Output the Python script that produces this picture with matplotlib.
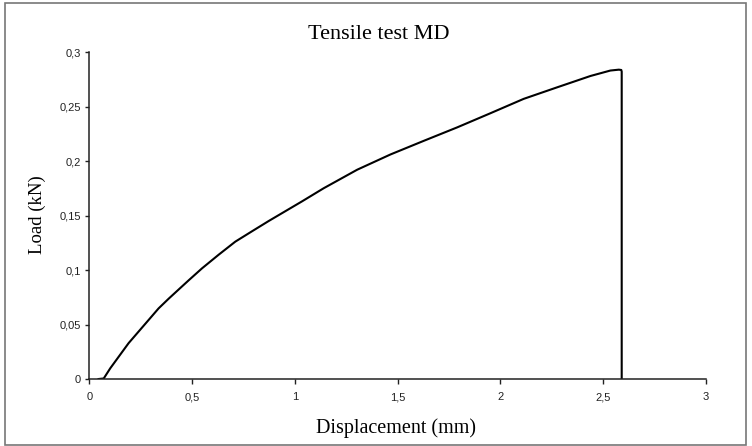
import matplotlib.pyplot as plt
from matplotlib.patches import Rectangle

# Values
disp = [0.045, 0.07, 0.102, 0.143, 0.191, 0.24, 0.289, 0.337, 0.386, 0.435,
        0.483, 0.548, 0.629, 0.71, 0.792, 0.873, 0.954, 1.035, 1.14, 1.303,
        1.465, 1.627, 1.789, 1.951, 2.113, 2.276, 2.438, 2.535, 2.576, 2.588,
        2.59, 2.59]
load = [0, 0.0005, 0.0099, 0.0205, 0.0329, 0.0436, 0.0543, 0.0648, 0.0737, 0.0822,
        0.0905, 0.1015, 0.114, 0.126, 0.1356, 0.145, 0.154, 0.163, 0.175, 0.192,
        0.206, 0.2185, 0.2308, 0.2438, 0.257, 0.2676, 0.278, 0.283, 0.2838, 0.2835,
        0.282, 0]

xticks = [0, 0.5, 1, 1.5, 2, 2.5, 3]
xtick_labels = ['0', '0,5', '1', '1,5', '2', '2,5', '3']
yticks = [0, 0.05, 0.1, 0.15, 0.2, 0.25, 0.3]
ytick_labels = ['0', '0,05', '0,1', '0,15', '0,2', '0,25', '0,3']

serif = 'Liberation Serif'
sans = 'Liberation Sans'

fig = plt.figure(figsize=(7.52, 4.46), dpi=100)
ax = fig.add_axes([0.1188, 0.1502, 0.82, 0.7332])

ax.plot(disp, load, color='black', lw=1.5)

ax.set_xlim(0, 3)
ax.set_ylim(0, 0.3)
ax.set_xticks(xticks)
ax.set_xticklabels(xtick_labels, fontfamily=sans, fontsize=8)
ax.set_yticks(yticks)
ax.set_yticklabels(ytick_labels, fontfamily=sans, fontsize=8)
ax.tick_params(axis='x', direction='out', length=3.5, width=1, pad=6, colors='#222222')
ax.tick_params(axis='y', direction='out', length=3, width=1, pad=3, colors='#222222')

for s in ['top', 'right']:
    ax.spines[s].set_visible(False)
for s in ['left', 'bottom']:
    ax.spines[s].set_linewidth(1.1)
    ax.spines[s].set_color('#222222')

fig.text(0.504, 0.923, 'Tensile test MD', ha='center', va='center',
         fontfamily=serif, fontsize=16)
fig.text(0.527, 0.04, 'Displacement (mm)', ha='center', va='center',
         fontfamily=serif, fontsize=14.5)
fig.text(0.049, 0.518, 'Load (kN)', ha='center', va='center', rotation=90,
         fontfamily=serif, fontsize=13.5)

# outer chart border
fig.patches.append(Rectangle((0.0066, 0.003), 0.9854, 0.99, transform=fig.transFigure,
                             fill=False, edgecolor='#777777', lw=1.2))

fig.savefig('out.png', dpi=100)
